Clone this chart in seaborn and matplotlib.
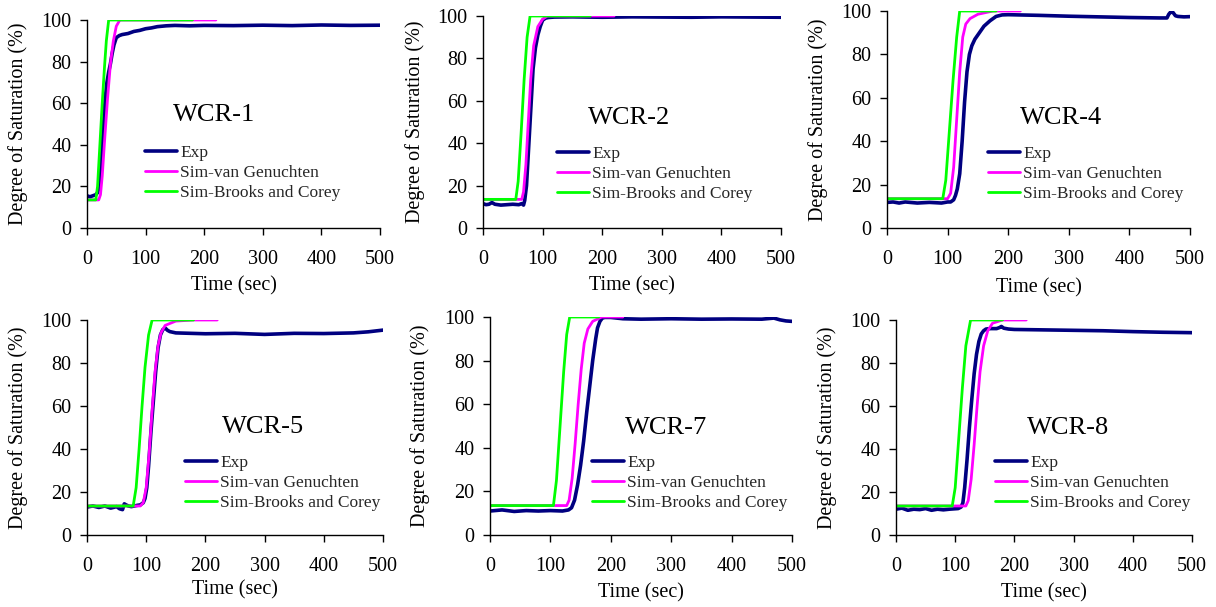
import numpy as np
import pandas as pd
import matplotlib
matplotlib.use("Agg")
import matplotlib.pyplot as plt
import seaborn as sns

# ---------------- data ----------------
panel_names = ["WCR-1", "WCR-2", "WCR-4", "WCR-5", "WCR-7", "WCR-8"]
series_names = ["Exp", "Sim-van Genuchten", "Sim-Brooks and Corey"]

# WCR-1
wcr1_exp_t = [0, 5, 10, 15, 18, 20, 22, 25, 28, 31, 34, 37, 40, 43, 46, 50, 55, 60, 70, 80, 90, 100, 110,
              120, 135, 150, 175, 200, 250, 300, 350, 400, 450, 500]
wcr1_exp_v = [15.5, 15, 15.5, 16, 17, 19, 25, 35, 48, 62, 70, 75, 79, 84, 88, 91.5, 92.5, 93, 93.5, 94.5,
              95, 95.8, 96.2, 96.8, 97.2, 97.4, 97.2, 97.4, 97.3, 97.5, 97.3, 97.6, 97.4, 97.5]
wcr1_vg_t = [0, 20, 23, 26, 30, 35, 40, 45, 50, 56, 220]
wcr1_vg_v = [13.5, 13.5, 16, 25, 42, 62, 79, 90, 97, 100, 100]
wcr1_bc_t = [0, 15, 18, 22, 26, 30, 33, 37, 180]
wcr1_bc_v = [13.5, 13.5, 20, 40, 60, 78, 90, 100, 100]

# WCR-2
wcr2_exp_t = [0, 5, 10, 15, 20, 30, 40, 50, 60, 65, 68, 70, 73, 76, 80, 84, 88, 92, 96, 100, 105, 110, 120,
              150, 200, 250, 300, 350, 400, 450, 500]
wcr2_exp_v = [11.5, 11, 11.2, 12, 11.2, 10.8, 11, 11.2, 11, 11.5, 10.8, 13, 20, 35, 55, 75, 85, 91, 95, 98,
              99, 99.3, 99.5, 99.6, 99.4, 99.6, 99.5, 99.4, 99.6, 99.5, 99.4]
wcr2_vg_t = [0, 65, 68, 72, 76, 80, 85, 92, 100, 108, 220]
wcr2_vg_v = [13.5, 13.5, 17, 30, 50, 70, 86, 95, 98.5, 100, 100]
wcr2_bc_t = [0, 55, 59, 64, 69, 74, 79, 180]
wcr2_bc_v = [13.5, 13.5, 22, 45, 70, 90, 100, 100]

# WCR-4
wcr4_exp_t = [0, 10, 20, 30, 50, 70, 90, 100, 105, 110, 113, 116, 120, 124, 128, 132, 136, 140, 145, 150,
              155, 160, 170, 180, 190, 200, 250, 300, 350, 400, 450, 462, 465, 468, 472, 476, 480, 490, 500]
wcr4_exp_v = [11.8, 12, 11.5, 12, 11.5, 11.8, 11.5, 12, 12, 13, 15, 18, 25, 40, 58, 72, 80, 84, 87, 89, 91,
              93, 95.5, 97.5, 98.2, 98.3, 98, 97.6, 97.3, 97, 96.8, 96.8, 98.5, 99.5, 99.3, 97.8, 97.5,
              97.3, 97.4]
wcr4_vg_t = [0, 100, 105, 110, 115, 120, 125, 130, 137, 150, 175, 220]
wcr4_vg_v = [13.5, 13.5, 16, 28, 50, 72, 88, 94, 96.5, 98.5, 100, 100]
wcr4_bc_t = [0, 92, 97, 103, 109, 115, 120, 180]
wcr4_bc_v = [13.5, 13.5, 22, 45, 68, 88, 100, 100]

# WCR-5
wcr5_exp_t = [0, 10, 20, 30, 40, 50, 55, 60, 63, 66, 70, 75, 80, 85, 90, 95, 98, 101, 104, 108, 112, 116,
              120, 124, 128, 132, 136, 140, 150, 175, 200, 250, 300, 350, 400, 450, 475, 500]
wcr5_exp_v = [13, 13.5, 12.8, 13.5, 12.5, 13.2, 12.2, 11.8, 14.5, 14, 13.5, 13.2, 13.5, 13.8, 14, 15, 17,
              22, 32, 48, 62, 76, 87, 93, 95.5, 96.3, 95.2, 94.6, 94, 93.8, 93.6, 93.8, 93.3, 93.8, 93.7,
              94, 94.5, 95.3]
wcr5_vg_t = [0, 90, 95, 100, 105, 110, 115, 120, 125, 132, 150, 180, 220]
wcr5_vg_v = [13.5, 13.5, 15, 22, 38, 58, 76, 88, 94, 97.5, 99.5, 100, 100]
wcr5_bc_t = [0, 78, 83, 88, 93, 98, 104, 110, 180]
wcr5_bc_v = [13.5, 13.5, 22, 40, 60, 78, 93, 100, 100]

# WCR-7
wcr7_exp_t = [0, 20, 40, 60, 80, 100, 120, 130, 135, 140, 145, 150, 155, 160, 165, 170, 175, 178, 182, 186,
              190, 200, 220, 250, 300, 350, 400, 450, 470, 480, 490, 500]
wcr7_exp_v = [11, 11.5, 10.8, 11.2, 11, 11.2, 11, 11.5, 12.5, 16, 23, 32, 43, 56, 68, 80, 90, 95, 98, 99.5,
              99.8, 99.8, 99.2, 99, 99.2, 99, 99.1, 99, 99.5, 98.7, 98.2, 98]
wcr7_vg_t = [0, 127, 131, 136, 141, 146, 151, 156, 162, 170, 185, 220]
wcr7_vg_v = [13.5, 13.5, 16, 26, 42, 60, 76, 88, 94.5, 98, 100, 100]
wcr7_bc_t = [0, 105, 110, 116, 122, 127, 132, 180]
wcr7_bc_v = [13.5, 13.5, 25, 50, 75, 92, 100, 100]

# WCR-8
wcr8_exp_t = [0, 10, 20, 30, 40, 50, 60, 70, 80, 90, 100, 105, 110, 113, 116, 120, 124, 128, 132, 136, 140,
              144, 148, 152, 160, 170, 175, 178, 182, 190, 200, 250, 300, 350, 400, 450, 500]
wcr8_exp_v = [12, 12.5, 11.5, 12, 11.8, 12.3, 11.5, 12, 11.7, 12, 12.2, 12.3, 13, 15, 22, 35, 50, 63, 75,
              84, 90, 93.5, 95, 95.8, 96, 96, 96.5, 97, 96.2, 95.8, 95.6, 95.4, 95.2, 95, 94.6, 94.3, 94.1]
wcr8_vg_t = [0, 118, 122, 127, 132, 137, 142, 148, 155, 163, 180, 220]
wcr8_vg_v = [13.5, 13.5, 16, 26, 42, 60, 76, 88, 95, 98.5, 100, 100]
wcr8_bc_t = [0, 95, 100, 106, 112, 118, 126, 180]
wcr8_bc_v = [13.5, 13.5, 22, 45, 68, 88, 100, 100]

x_ticks = [0, 100, 200, 300, 400, 500]
y_ticks = [0, 20, 40, 60, 80, 100]

panels = [
    (wcr1_exp_t, wcr1_exp_v, wcr1_vg_t, wcr1_vg_v, wcr1_bc_t, wcr1_bc_v),
    (wcr2_exp_t, wcr2_exp_v, wcr2_vg_t, wcr2_vg_v, wcr2_bc_t, wcr2_bc_v),
    (wcr4_exp_t, wcr4_exp_v, wcr4_vg_t, wcr4_vg_v, wcr4_bc_t, wcr4_bc_v),
    (wcr5_exp_t, wcr5_exp_v, wcr5_vg_t, wcr5_vg_v, wcr5_bc_t, wcr5_bc_v),
    (wcr7_exp_t, wcr7_exp_v, wcr7_vg_t, wcr7_vg_v, wcr7_bc_t, wcr7_bc_v),
    (wcr8_exp_t, wcr8_exp_v, wcr8_vg_t, wcr8_vg_v, wcr8_bc_t, wcr8_bc_v),
]

# ---------------- layout (pixels, from top-left) ----------------
W, H = 1216, 607
axes_px = [(87, 20, 380, 228), (483, 16, 781, 228), (887, 11, 1190, 228),
           (87, 320, 383, 535), (490, 317, 792, 535), (896, 320, 1192, 535)]
title_px = [(173, 115), (588, 118), (1020, 118), (222, 427), (625, 428), (1027, 428)]
legend_px = [(145, 173), (557, 174), (988, 174), (185, 483), (592, 483), (995, 483)]
xlabel_cy_px = [286, 286, 288, 590, 593, 593]
ylabel_cx_px = [17, 414, 817, 17, 419, 826]

colors = {"Exp": "#000080", "Sim-van Genuchten": "#FF00FF", "Sim-Brooks and Corey": "#00FF00"}
widths = {"Exp": 2.6, "Sim-van Genuchten": 2.0, "Sim-Brooks and Corey": 2.0}

sns.set_style("ticks")
plt.rcParams["font.family"] = ["Liberation Serif", "DejaVu Serif"]

fig = plt.figure(figsize=(W / 100, H / 100), dpi=100)
fig.patch.set_facecolor("white")


def fx(px):
    return px / W


def fy(py):
    return 1 - py / H


for i, name in enumerate(panel_names):
    l, t, r, b = axes_px[i]
    ax = fig.add_axes([fx(l), fy(b), (r - l) / W, (b - t) / H])
    et, ev, vt, vv, bt, bv = panels[i]
    df = pd.concat([
        pd.DataFrame({"t": et, "v": ev, "s": "Exp"}),
        pd.DataFrame({"t": vt, "v": vv, "s": "Sim-van Genuchten"}),
        pd.DataFrame({"t": bt, "v": bv, "s": "Sim-Brooks and Corey"}),
    ], ignore_index=True)
    for s in series_names:
        sub = df[df["s"] == s]
        sns.lineplot(data=sub, x="t", y="v", ax=ax, color=colors[s], lw=widths[s],
                     estimator=None, sort=True, label=s, legend=False)
    ax.set_xlim(0, 500)
    ax.set_ylim(0, 100)
    ax.set_xticks(x_ticks)
    ax.set_yticks(y_ticks)
    ax.set_xticklabels([str(v) for v in x_ticks])
    ax.set_yticklabels([str(v) for v in y_ticks])
    ax.tick_params(axis="both", labelsize=14.5, direction="out", length=5, width=1.0,
                   color="black", labelcolor="black")
    ax.tick_params(axis="x", pad=11)
    ax.tick_params(axis="y", pad=6)
    for sp in ["top", "right"]:
        ax.spines[sp].set_visible(False)
    for sp in ["left", "bottom"]:
        ax.spines[sp].set_color("black")
        ax.spines[sp].set_linewidth(1.0)
    ax.set_facecolor("white")
    ax.set_xlabel("Time (sec)", fontsize=14.5, color="black")
    ax.set_ylabel("Degree of Saturation (%)", fontsize=14.5, color="black")
    ax.xaxis.set_label_coords(fx((l + r) / 2), fy(xlabel_cy_px[i]), transform=fig.transFigure)
    ax.xaxis.label.set_va("center")
    ax.yaxis.set_label_coords(fx(ylabel_cx_px[i] + 11), fy((t + b) / 2), transform=fig.transFigure)

    fig.text(fx(title_px[i][0]), fy(title_px[i][1]), name, fontsize=19, ha="left", va="center",
             color="black")
    handles, labels = ax.get_legend_handles_labels()
    fig.legend(handles, labels, loc="center left",
               bbox_to_anchor=(fx(legend_px[i][0]), fy(legend_px[i][1])),
               bbox_transform=fig.transFigure, frameon=False, fontsize=12.5,
               borderpad=0, borderaxespad=0, handlelength=1.85, handletextpad=0.17,
               labelspacing=0.22)

fig.savefig("out.png", dpi=100, facecolor="white")
